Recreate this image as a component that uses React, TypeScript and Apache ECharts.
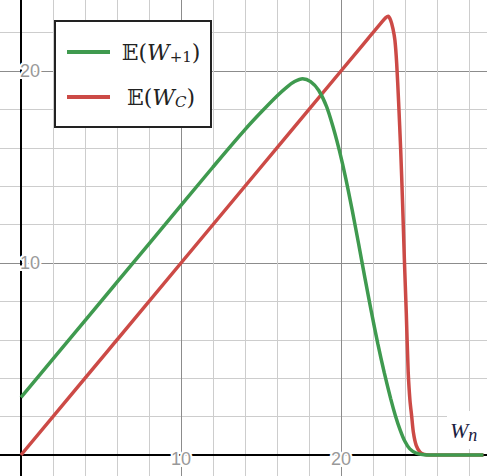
import React, { useEffect, useRef } from "react";
import * as echarts from "echarts";

// Series data: [W_n, value]
const greenCurve: [number, number][] = [
  [0, 3], [4, 7], [8, 11], [12, 15], [14, 16.95], [15, 17.85], [16, 18.7],
  [16.6, 19.15], [17.1, 19.45], [17.6, 19.6], [18.1, 19.45], [18.6, 19.0],
  [19.1, 18.15], [19.5, 17.1], [19.9, 15.85], [20.3, 14.4], [20.7, 12.75],
  [21.1, 11.0], [21.5, 9.2], [21.9, 7.45], [22.3, 5.8], [22.7, 4.3],
  [23.1, 2.95], [23.4, 2.05], [23.7, 1.3], [24.0, 0.7], [24.3, 0.32],
  [24.7, 0.1], [25.2, 0.01], [25.6, 0], [28.9, 0],
];
const redCurve: [number, number][] = [
  [0, 0], [10, 10], [20, 20], [22.6, 22.6], [22.8, 22.78], [22.95, 22.85],
  [23.1, 22.65], [23.25, 22.2], [23.37, 21.6], [23.48, 20.4], [23.6, 18.4],
  [23.73, 15.9], [23.85, 13.1], [23.96, 10.2], [24.08, 7.4], [24.2, 4.3],
  [24.31, 2.85], [24.42, 2.0], [24.52, 1.2], [24.7, 0.5], [24.94, 0.15],
  [25.2, 0.03], [25.5, 0], [28.9, 0],
];
const seriesNames = ["E+1", "EC"];
const seriesLabels: Record<string, string> = {
  "E+1": "{e|𝔼}{p|(}{w|W}{s|+1}{p|)}",
  EC: "{e|𝔼}{p|(}{w|W}{c|C}{p|)}",
};
const tickLabels = [10, 20];
const axisMin = -10;
const axisMax = 30;
const majorStep = 10;

const GREEN = "#3f9a4f";
const RED = "#cc4a46";

// The chart canvas is larger than the window; this offset places the origin
const OFF_X = 139;
const OFF_Y = 121;
const CW = 640;
const CH = 768;

export default function App() {
  const ref = useRef<HTMLDivElement>(null);
  useEffect(() => {
    if (!ref.current) return;
    const chart = echarts.init(ref.current, undefined, { renderer: "svg" });
    const labelFmt = (v: number) => (tickLabels.includes(v) ? String(v) : "");
    const serif = '"DejaVu Serif", "DejaVu Sans", serif';
    const base = { fontFamily: serif, fontSize: 22, color: "#222", align: "center", lineHeight: 30 };
    const rich = {
      e: { ...base },
      p: { ...base },
      w: { ...base, fontStyle: "italic" },
      s: { ...base, fontSize: 15, padding: [9, 0, 0, 0] },
      c: { ...base, fontStyle: "italic", fontSize: 15, padding: [9, 0, 0, 0] },
    };
    const axisCommon = {
      type: "value",
      min: axisMin,
      max: axisMax,
      interval: majorStep,
      axisTick: { show: false },
      minorTick: { show: false, splitNumber: 5 },
      splitLine: { show: true, lineStyle: { color: "#8c8c8c", width: 1 } },
      minorSplitLine: { show: true, lineStyle: { color: "#cdcdcd", width: 1 } },
    };
    const labelCommon = {
      formatter: labelFmt,
      fontSize: 18,
      fontFamily: '"Liberation Sans", Arial, sans-serif',
      color: "#999",
      textBorderColor: "#fff",
      textBorderWidth: 4,
    };
    // Axis offsets move the whole axis (line + labels) onto the zero lines
    const zeroX = (0 - axisMin) / (axisMax - axisMin) * CW; // px from left of grid
    const zeroY = (0 - axisMin) / (axisMax - axisMin) * CH; // px from bottom of grid
    chart.setOption({
      animation: false,
      backgroundColor: "#fff",
      grid: {
        left: 0, right: 0, top: 0, bottom: 0,
        containLabel: false,
        outerBoundsMode: "none",
      },
      xAxis: {
        ...axisCommon,
        position: "bottom",
        offset: -zeroY,
        axisLine: { onZero: false, lineStyle: { color: "#000", width: 2 } },
        axisLabel: { ...labelCommon, margin: -5 },
      },
      yAxis: {
        ...axisCommon,
        position: "left",
        offset: -zeroX,
        axisLine: { onZero: false, lineStyle: { color: "#000", width: 2 } },
        axisLabel: { ...labelCommon, margin: -19 },
      },
      legend: {
        data: seriesNames,
        orient: "vertical",
        left: 55 + OFF_X,
        top: 21 + OFF_Y,
        padding: [16, 4, 15, 12],
        itemGap: 15,
        itemWidth: 43,
        itemHeight: 4,
        icon: "rect",
        selectedMode: false,
        backgroundColor: "#fff",
        borderColor: "#222",
        borderWidth: 2,
        formatter: (name: string) => seriesLabels[name],
        textStyle: { width: 92, lineHeight: 30, rich },
      },
      graphic: [
        {
          type: "text",
          left: 447 + OFF_X,
          top: 411 + OFF_Y,
          z: 100,
          style: {
            text: "{w|W}{n|n}",
            backgroundColor: "#fff",
            padding: [4, 10, 4, 3],
            rich: {
              w: { fontFamily: '"Liberation Serif", serif', fontStyle: "italic", fontSize: 22, fill: "#1b2040", lineHeight: 30 },
              n: { fontFamily: '"Liberation Serif", serif', fontStyle: "italic", fontSize: 18, fill: "#1b2040", padding: [10, 0, 0, 0], lineHeight: 30 },
            },
          },
        },
      ],
      series: [
        {
          name: seriesNames[0],
          type: "line",
          data: greenCurve,
          showSymbol: false,
          smooth: 0.25,
          z: 3,
          itemStyle: { color: GREEN },
          lineStyle: { color: GREEN, width: 3.5 },
        },
        {
          name: seriesNames[1],
          type: "line",
          data: redCurve,
          showSymbol: false,
          smooth: 0.25,
          z: 2,
          itemStyle: { color: RED },
          lineStyle: { color: RED, width: 3.5 },
        },
      ],
    });
    return () => chart.dispose();
  }, []);
  return (
    <div
      ref={ref}
      style={{ position: "fixed", left: -OFF_X, top: -OFF_Y, width: CW, height: CH }}
    />
  );
}
